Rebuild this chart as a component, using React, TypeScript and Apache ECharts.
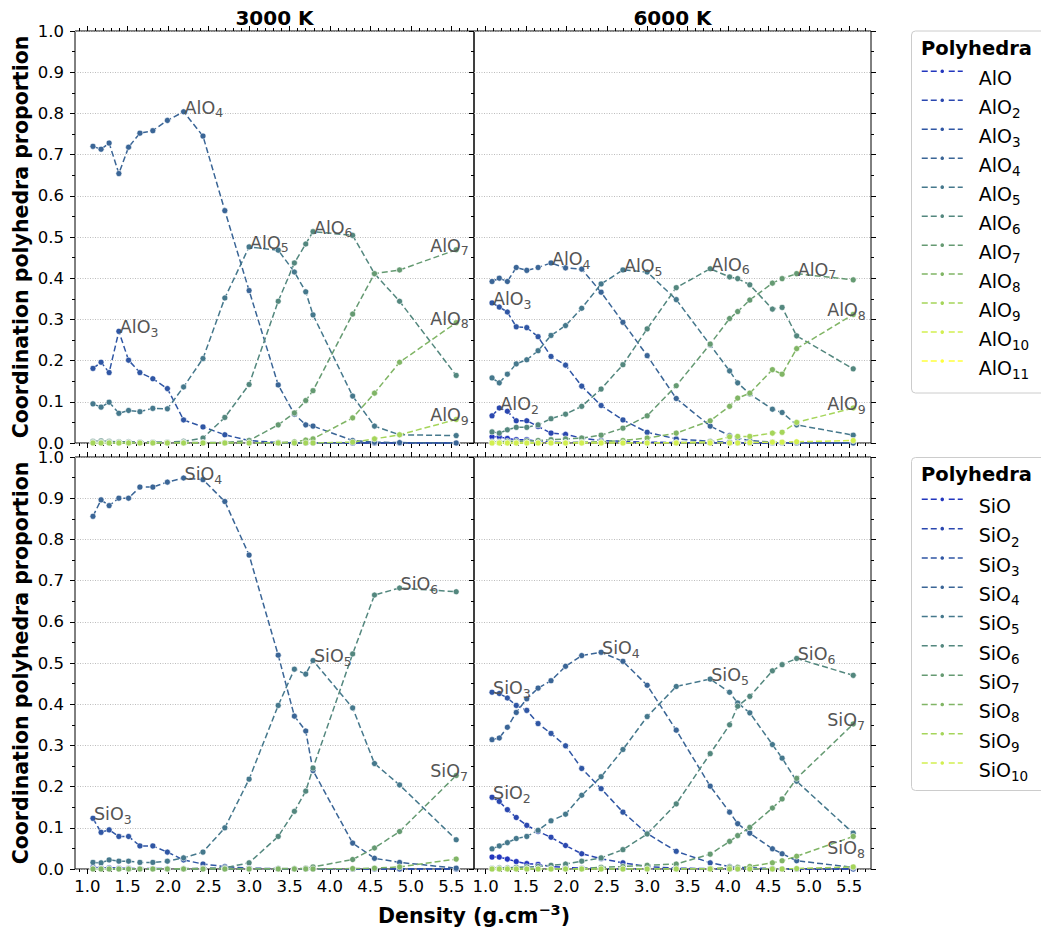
import React, { useEffect, useRef } from "react";
import * as echarts from "echarts";

// ---------- data ----------
const DENSITY_3000K = [1.07, 1.17, 1.27, 1.39, 1.51, 1.65, 1.81, 1.99, 2.19, 2.43, 2.70, 3.00, 3.36, 3.56, 3.70, 3.79, 4.28, 4.55, 4.86, 5.56];
const DENSITY_6000K = [1.08, 1.17, 1.27, 1.38, 1.51, 1.65, 1.81, 1.99, 2.19, 2.43, 2.70, 3.00, 3.36, 3.78, 4.02, 4.12, 4.27, 4.55, 4.67, 4.85, 5.55];

const AL_NAMES = ["AlO", "AlO₂", "AlO₃", "AlO₄", "AlO₅", "AlO₆", "AlO₇", "AlO₈", "AlO₉", "AlO₁₀", "AlO₁₁"];
const SI_NAMES = ["SiO", "SiO₂", "SiO₃", "SiO₄", "SiO₅", "SiO₆", "SiO₇", "SiO₈", "SiO₉", "SiO₁₀"];
const TEMPERATURES = ["3000 K", "6000 K"];

const X_MAJOR_TICKS = [1.0, 1.5, 2.0, 2.5, 3.0, 3.5, 4.0, 4.5, 5.0, 5.5];

// AlO polyhedra, 3000 K (empty = not present at this temperature)
const AL3K_1 = [0, 0, 0, 0, 0, 0, 0, 0, 0, 0, 0, 0, 0, 0, 0, 0, 0, 0, 0, 0];
const AL3K_2 = [0.003, 0.003, 0.002, 0.002, 0.002, 0.001, 0.001, 0.001, 0.001, 0, 0, 0, 0, 0, 0, 0, 0, 0, 0, 0];
const AL3K_3 = [0.181, 0.196, 0.171, 0.271, 0.201, 0.171, 0.156, 0.132, 0.056, 0.039, 0.020, 0.006, 0.001, 0, 0, 0, 0, 0, 0, 0];
const AL3K_4 = [0.720, 0.713, 0.728, 0.654, 0.718, 0.752, 0.758, 0.783, 0.804, 0.745, 0.564, 0.370, 0.141, 0.070, 0.044, 0.041, 0.006, 0.002, 0.001, 0.000];
const AL3K_5 = [0.095, 0.087, 0.099, 0.072, 0.079, 0.076, 0.084, 0.083, 0.136, 0.205, 0.352, 0.476, 0.468, 0.415, 0.367, 0.311, 0.114, 0.041, 0.020, 0.018];
const AL3K_6 = [0.004, 0.005, 0.004, 0.003, 0.003, 0.002, 0.002, 0.002, 0.004, 0.012, 0.062, 0.142, 0.344, 0.437, 0.483, 0.513, 0.504, 0.411, 0.344, 0.164];
const AL3K_7 = [0.002, 0.002, 0.002, 0.002, 0.001, 0.001, 0.001, 0.001, 0.001, 0.001, 0.001, 0.006, 0.044, 0.073, 0.103, 0.127, 0.313, 0.411, 0.420, 0.469];
const AL3K_8 = [0, 0, 0, 0, 0, 0, 0, 0, 0, 0, 0, 0, 0.001, 0.003, 0.007, 0.010, 0.061, 0.121, 0.196, 0.292];
const AL3K_9 = [0, 0, 0, 0, 0, 0, 0, 0, 0, 0, 0, 0, 0, 0, 0, 0, 0.002, 0.010, 0.020, 0.057];
const AL3K_10: number[] = [];
const AL3K_11: number[] = [];

// AlO polyhedra, 6000 K
const AL6K_1 = [0.015, 0.015, 0.011, 0.008, 0.008, 0.004, 0.002, 0.001, 0.001, 0, 0, 0, 0, 0, 0, 0, 0, 0, 0, 0, 0];
const AL6K_2 = [0.066, 0.085, 0.077, 0.054, 0.054, 0.040, 0.024, 0.021, 0.012, 0.006, 0.004, 0.002, 0.001, 0, 0, 0, 0, 0, 0, 0, 0];
const AL6K_3 = [0.340, 0.330, 0.318, 0.282, 0.280, 0.258, 0.210, 0.189, 0.138, 0.091, 0.056, 0.026, 0.010, 0.004, 0.002, 0.001, 0.001, 0, 0, 0, 0];
const AL6K_4 = [0.392, 0.400, 0.392, 0.426, 0.419, 0.426, 0.437, 0.425, 0.422, 0.366, 0.293, 0.212, 0.108, 0.041, 0.018, 0.012, 0.006, 0.002, 0.001, 0.001, 0];
const AL6K_5 = [0.158, 0.146, 0.167, 0.192, 0.202, 0.224, 0.261, 0.285, 0.327, 0.386, 0.420, 0.415, 0.348, 0.238, 0.175, 0.146, 0.119, 0.082, 0.074, 0.044, 0.019];
const AL6K_6 = [0.027, 0.024, 0.032, 0.038, 0.038, 0.044, 0.059, 0.070, 0.089, 0.131, 0.190, 0.277, 0.377, 0.423, 0.403, 0.399, 0.384, 0.325, 0.329, 0.260, 0.180];
const AL6K_7 = [0.003, 0.003, 0.004, 0.004, 0.005, 0.006, 0.008, 0.010, 0.012, 0.019, 0.036, 0.066, 0.139, 0.240, 0.302, 0.319, 0.347, 0.388, 0.399, 0.411, 0.396];
const AL6K_8 = [0, 0, 0, 0, 0, 0, 0.001, 0.001, 0.002, 0.003, 0.006, 0.012, 0.024, 0.054, 0.089, 0.109, 0.121, 0.178, 0.167, 0.229, 0.312];
const AL6K_9 = [0, 0, 0, 0, 0, 0, 0, 0, 0, 0, 0, 0, 0.001, 0.003, 0.015, 0.016, 0.016, 0.024, 0.026, 0.050, 0.085];
const AL6K_10 = [0, 0, 0, 0, 0, 0, 0, 0, 0, 0, 0, 0, 0, 0, 0, 0, 0.001, 0.002, 0.002, 0.003, 0.006];
const AL6K_11: number[] = [];

// SiO polyhedra, 3000 K
const SI3K_1 = [0, 0, 0, 0, 0, 0, 0, 0, 0, 0, 0, 0, 0, 0, 0, 0, 0, 0, 0, 0];
const SI3K_2 = [0.004, 0.003, 0.003, 0.002, 0.002, 0.001, 0.001, 0.001, 0, 0, 0, 0, 0, 0, 0, 0, 0, 0, 0, 0];
const SI3K_3 = [0.123, 0.089, 0.095, 0.079, 0.079, 0.056, 0.056, 0.041, 0.022, 0.012, 0.006, 0.002, 0.001, 0, 0, 0, 0, 0, 0, 0];
const SI3K_4 = [0.856, 0.896, 0.882, 0.900, 0.900, 0.927, 0.927, 0.939, 0.949, 0.945, 0.892, 0.762, 0.519, 0.371, 0.335, 0.239, 0.063, 0.026, 0.016, 0.002];
const SI3K_5 = [0.016, 0.015, 0.022, 0.019, 0.019, 0.016, 0.016, 0.019, 0.027, 0.041, 0.100, 0.218, 0.397, 0.485, 0.473, 0.506, 0.391, 0.256, 0.204, 0.071];
const SI3K_6 = [0, 0, 0, 0, 0, 0, 0, 0, 0.001, 0.002, 0.003, 0.015, 0.079, 0.140, 0.189, 0.245, 0.522, 0.665, 0.682, 0.673];
const SI3K_7 = [0, 0, 0, 0, 0, 0, 0, 0, 0, 0, 0, 0, 0.001, 0.001, 0.002, 0.005, 0.023, 0.051, 0.091, 0.227];
const SI3K_8 = [0, 0, 0, 0, 0, 0, 0, 0, 0, 0, 0, 0, 0, 0, 0, 0, 0.001, 0.002, 0.005, 0.024];
const SI3K_9: number[] = [];
const SI3K_10: number[] = [];

// SiO polyhedra, 6000 K
const SI6K_1 = [0.029, 0.029, 0.024, 0.018, 0.013, 0.011, 0.006, 0.004, 0.002, 0.001, 0, 0, 0, 0, 0, 0, 0, 0, 0, 0, 0];
const SI6K_2 = [0.174, 0.164, 0.144, 0.125, 0.106, 0.091, 0.077, 0.057, 0.037, 0.025, 0.015, 0.006, 0.002, 0.001, 0, 0, 0, 0, 0, 0, 0];
const SI6K_3 = [0.429, 0.426, 0.415, 0.397, 0.385, 0.353, 0.329, 0.299, 0.244, 0.195, 0.138, 0.086, 0.043, 0.015, 0.006, 0.004, 0.003, 0.001, 0, 0, 0];
const SI6K_4 = [0.314, 0.318, 0.344, 0.380, 0.413, 0.439, 0.457, 0.492, 0.518, 0.526, 0.504, 0.446, 0.337, 0.201, 0.138, 0.110, 0.087, 0.049, 0.037, 0.020, 0.004];
const SI6K_5 = [0.049, 0.056, 0.064, 0.074, 0.079, 0.094, 0.117, 0.133, 0.179, 0.224, 0.290, 0.370, 0.443, 0.461, 0.429, 0.403, 0.379, 0.302, 0.269, 0.213, 0.087];
const SI6K_6 = [0.002, 0.003, 0.003, 0.004, 0.005, 0.006, 0.009, 0.012, 0.019, 0.027, 0.047, 0.085, 0.158, 0.280, 0.350, 0.395, 0.419, 0.481, 0.496, 0.511, 0.470];
const SI6K_7 = [0, 0, 0, 0, 0, 0, 0, 0, 0.001, 0.004, 0.006, 0.009, 0.012, 0.036, 0.067, 0.081, 0.101, 0.148, 0.170, 0.220, 0.352];
const SI6K_8 = [0, 0, 0, 0, 0, 0, 0, 0, 0, 0, 0, 0, 0, 0.001, 0.004, 0.004, 0.006, 0.015, 0.020, 0.031, 0.079];
const SI6K_9 = [0, 0, 0, 0, 0, 0, 0, 0, 0, 0, 0, 0, 0, 0, 0, 0, 0, 0, 0, 0.001, 0.005];
const SI6K_10: number[] = [];

const AL_3000 = [AL3K_1, AL3K_2, AL3K_3, AL3K_4, AL3K_5, AL3K_6, AL3K_7, AL3K_8, AL3K_9, AL3K_10, AL3K_11];
const AL_6000 = [AL6K_1, AL6K_2, AL6K_3, AL6K_4, AL6K_5, AL6K_6, AL6K_7, AL6K_8, AL6K_9, AL6K_10, AL6K_11];
const SI_3000 = [SI3K_1, SI3K_2, SI3K_3, SI3K_4, SI3K_5, SI3K_6, SI3K_7, SI3K_8, SI3K_9, SI3K_10];
const SI_6000 = [SI6K_1, SI6K_2, SI6K_3, SI6K_4, SI6K_5, SI6K_6, SI6K_7, SI6K_8, SI6K_9, SI6K_10];

// which point of which species carries a text label (k = species index, i = point index)
const LABELS_AL_3000 = [{ k: 2, i: 3 }, { k: 3, i: 8 }, { k: 4, i: 11 }, { k: 5, i: 15 }, { k: 6, i: 19, end: true }, { k: 7, i: 19, end: true }, { k: 8, i: 19, end: true }];
const LABELS_AL_6000 = [{ k: 1, i: 1 }, { k: 2, i: 0 }, { k: 3, i: 6 }, { k: 4, i: 10 }, { k: 5, i: 13 }, { k: 6, i: 19 }, { k: 7, i: 20, end: true }, { k: 8, i: 20, end: true }];
const LABELS_SI_3000 = [{ k: 2, i: 0 }, { k: 3, i: 8 }, { k: 4, i: 15 }, { k: 5, i: 18 }, { k: 6, i: 19, end: true }];
const LABELS_SI_6000 = [{ k: 1, i: 0 }, { k: 2, i: 0 }, { k: 3, i: 9 }, { k: 4, i: 13 }, { k: 5, i: 19 }, { k: 6, i: 20, end: true }, { k: 7, i: 20, end: true, below: true }];

// ---------- style ----------
const COLORS = ["#2236be", "#2a47af", "#2f56a4", "#3a6596", "#45788c", "#53877e", "#659a72", "#80b565", "#a5d55a", "#d2ef50", "#ffff3c"];
const FONT = "DejaVu Sans";

const GRIDS = [
  { left: 75, top: 31, width: 399, height: 412, xMin: 0.848, xMax: 5.78 },
  { left: 474, top: 31, width: 397, height: 412, xMin: 0.857, xMax: 5.77 },
  { left: 75, top: 457, width: 399, height: 412, xMin: 0.848, xMax: 5.78 },
  { left: 474, top: 457, width: 397, height: 412, xMin: 0.857, xMax: 5.77 },
];

const SUB_DIGITS = "₀₁₂₃₄₅₆₇₈₉";
function splitName(name: string) {
  let base = "";
  let sub = "";
  for (const ch of name) {
    const d = SUB_DIGITS.indexOf(ch);
    if (d >= 0) sub += String(d);
    else base += ch;
  }
  return { base, sub };
}

function minorTicks(): number[] {
  const out: number[] = [];
  for (let t = 9; t <= 57; t++) {
    if (t % 5 !== 0) out.push(t / 10);
  }
  return out;
}

const ANNOT_RICH = {
  b: { fontSize: 17.5, lineHeight: 17.5, verticalAlign: "top", color: "#555555", fontFamily: FONT },
  s: { fontSize: 12.5, lineHeight: 12.5, verticalAlign: "top", color: "#555555", fontFamily: FONT, padding: [7.7, 0, 0, 0] },
};

function buildSeries(names: string[], xs: number[], table: number[][], g: number, labels: any[]) {
  return names.map((name, k) => {
    const vals = table[k];
    const { base, sub } = splitName(name);
    const data = vals.map((v, i) => {
      const x = xs[i];
      const lab = labels.find((l) => l.k === k && l.i === i);
      if (!lab) return [x, v];
      const dx = lab.end ? -26 : 1;
      const dy = lab.below ? 20 : 4.4;
      return {
        value: [x, v],
        label: {
          show: true,
          formatter: `{b|${base}}{s|${sub}}`,
          rich: ANNOT_RICH,
          position: "inside",
          align: "left",
          verticalAlign: "bottom",
          offset: [dx, dy],
          color: "#555555",
          fontSize: 17.5,
          fontFamily: FONT,
        },
      };
    });
    return {
      type: "line",
      name,
      xAxisIndex: g * 4,
      yAxisIndex: g * 2,
      data,
      symbol: "circle",
      symbolSize: 6,
      showSymbol: true,
      clip: true,
      lineStyle: { color: COLORS[k], width: 1.5, type: [6, 3] },
      itemStyle: { color: COLORS[k], borderColor: "#ffffff", borderWidth: 0.6 },
      label: { show: false },
      emphasis: { disabled: true },
      silent: true,
      z: 2,
    };
  });
}

function buildOption() {
  const MINOR = minorTicks();
  const grid: any[] = [];
  const xAxis: any[] = [];
  const yAxis: any[] = [];
  GRIDS.forEach((G, g) => {
    grid.push({
      left: G.left,
      top: G.top,
      width: G.width,
      height: G.height,
      show: true,
      borderColor: "#000",
      borderWidth: 1,
      backgroundColor: "transparent",
      containLabel: false,
      outerBoundsMode: "none",
    });
    const bottomRow = g >= 2;
    const rightCol = g % 2 === 1;
    const mk = (position: string, major: boolean, showLabel: boolean) => ({
      gridIndex: g,
      type: "value",
      position,
      min: G.xMin,
      max: G.xMax,
      axisLine: { show: false, onZero: false },
      axisTick: {
        show: true,
        inside: false,
        length: major ? 5 : 3,
        customValues: major ? X_MAJOR_TICKS : MINOR,
        lineStyle: { color: "#000", width: 1 },
      },
      minorTick: { show: false },
      axisLabel: {
        show: showLabel,
        customValues: X_MAJOR_TICKS,
        formatter: (v: number) => v.toFixed(1),
        fontSize: 16.5,
        fontFamily: FONT,
        color: "#000",
        margin: 9,
      },
      splitLine: { show: false },
    });
    xAxis.push(mk("bottom", true, bottomRow));
    xAxis.push(mk("bottom", false, false));
    xAxis.push(mk("top", true, false));
    xAxis.push(mk("top", false, false));

    yAxis.push({
      gridIndex: g,
      type: "value",
      position: "left",
      min: 0,
      max: 1,
      interval: 0.1,
      axisLine: { show: false, onZero: false },
      axisTick: { show: true, inside: false, length: 5, lineStyle: { color: "#000", width: 1 } },
      minorTick: { show: true, splitNumber: 2, length: 3, lineStyle: { color: "#000", width: 1 } },
      axisLabel: {
        show: !rightCol,
        formatter: (v: number) => v.toFixed(1),
        fontSize: 16.5,
        fontFamily: FONT,
        color: "#000",
        margin: 11,
      },
      splitLine: { show: true, lineStyle: { color: "#b5b5b5", width: 0.9, type: [1, 1.5] } },
      minorSplitLine: { show: false },
    });
    yAxis.push({
      gridIndex: g,
      type: "value",
      position: "right",
      show: rightCol,
      min: 0,
      max: 1,
      interval: 0.1,
      axisLine: { show: false, onZero: false },
      axisTick: { show: true, inside: false, length: 5, lineStyle: { color: "#000", width: 1 } },
      minorTick: { show: true, splitNumber: 2, length: 3, lineStyle: { color: "#000", width: 1 } },
      axisLabel: { show: false },
      splitLine: { show: false },
    });
  });

  const series = [
    ...buildSeries(AL_NAMES, DENSITY_3000K, AL_3000, 0, LABELS_AL_3000),
    ...buildSeries(AL_NAMES, DENSITY_6000K, AL_6000, 1, LABELS_AL_6000),
    ...buildSeries(SI_NAMES, DENSITY_3000K, SI_3000, 2, LABELS_SI_3000),
    ...buildSeries(SI_NAMES, DENSITY_6000K, SI_6000, 3, LABELS_SI_6000),
  ];

  const legendCommon = {
    orient: "vertical",
    left: 921,
    itemWidth: 41,
    itemHeight: 7,
    padding: 0,
    selectedMode: false,
    formatter: (name: string) => {
      const { base, sub } = splitName(name);
      return `{b|${base}}{s|${sub || " "}}`;
    },
    textStyle: {
      fontSize: 19,
      fontFamily: FONT,
      color: "#000",
      rich: {
        b: { fontSize: 19, lineHeight: 19, verticalAlign: "top", color: "#000", fontFamily: FONT, padding: [6.75, 0, 0, 11] },
        s: { fontSize: 13.5, lineHeight: 13.5, verticalAlign: "top", color: "#000", fontFamily: FONT, padding: [15.4, 0, 0, 0] },
      },
    },
    lineStyle: { width: 1.5 },
    z: 10,
  };

  const graphic = [
    { type: "rect", z: 5, shape: { x: 911.5, y: 31, width: 140, height: 362, r: 4 }, style: { fill: "#fff", stroke: "#cccccc", lineWidth: 1 } },
    { type: "rect", z: 5, shape: { x: 911.5, y: 457.5, width: 140, height: 333, r: 4 }, style: { fill: "#fff", stroke: "#cccccc", lineWidth: 1 } },
    { type: "text", z: 6, x: 921, y: 48, style: { text: "Polyhedra", font: `bold 19.5px "${FONT}"`, fill: "#000", align: "left", verticalAlign: "middle" } },
    { type: "text", z: 6, x: 921, y: 474, style: { text: "Polyhedra", font: `bold 19.5px "${FONT}"`, fill: "#000", align: "left", verticalAlign: "middle" } },
    { type: "text", z: 6, x: 274.5, y: 18, style: { text: TEMPERATURES[0], font: `bold 20px "${FONT}"`, fill: "#000", align: "center", verticalAlign: "middle" } },
    { type: "text", z: 6, x: 672.5, y: 18, style: { text: TEMPERATURES[1], font: `bold 20px "${FONT}"`, fill: "#000", align: "center", verticalAlign: "middle" } },
    { type: "text", z: 6, x: 21, y: 237, rotation: Math.PI / 2, style: { text: "Coordination polyhedra proportion", font: `bold 20.5px "${FONT}"`, fill: "#000", align: "center", verticalAlign: "middle" } },
    { type: "text", z: 6, x: 21, y: 663, rotation: Math.PI / 2, style: { text: "Coordination polyhedra proportion", font: `bold 20.5px "${FONT}"`, fill: "#000", align: "center", verticalAlign: "middle" } },
    {
      type: "text",
      z: 6,
      x: 474,
      y: 913,
      style: {
        text: "{b|Density (g.cm}{p|−3}{b|)}",
        fill: "#000",
        align: "center",
        verticalAlign: "middle",
        rich: {
          b: { fontSize: 20.5, fontWeight: "bold", fontFamily: FONT, lineHeight: 20.5, verticalAlign: "top", padding: [3, 0, 0, 0], fill: "#000" },
          p: { fontSize: 14.5, fontWeight: "bold", fontFamily: FONT, lineHeight: 14.5, verticalAlign: "top", padding: [0, 0, 0, 0], fill: "#000" },
        },
      },
    },
  ];

  return {
    animation: false,
    backgroundColor: "#ffffff",
    textStyle: { fontFamily: FONT },
    grid,
    xAxis,
    yAxis,
    series,
    legend: [
      { ...legendCommon, top: 61.75, itemGap: -0.42, data: AL_NAMES },
      { ...legendCommon, top: 489.85, itemGap: -0.1, data: SI_NAMES },
    ],
    graphic,
  };
}

export default function App() {
  const ref = useRef<HTMLDivElement>(null);
  useEffect(() => {
    if (!ref.current) return;
    const chart = echarts.init(ref.current, undefined, { renderer: "svg" });
    chart.setOption(buildOption() as any);
    return () => chart.dispose();
  }, []);
  return (
    <div
      ref={ref}
      style={{ position: "fixed", left: 0, top: 0, width: 1041, height: 931, background: "#fff" }}
    />
  );
}
